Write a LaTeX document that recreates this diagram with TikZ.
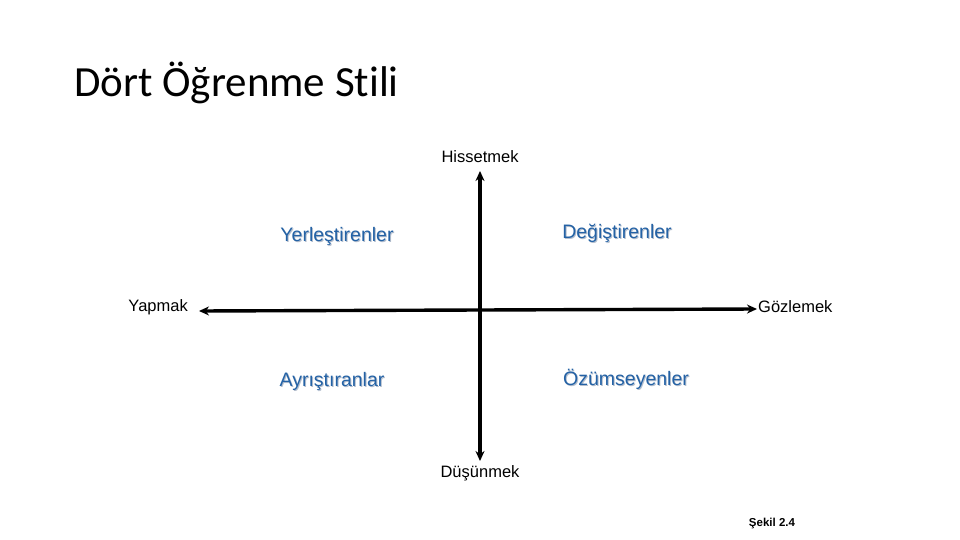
\documentclass[tikz,border=0pt]{standalone}
\usepackage{fontspec}
\setmainfont{Liberation Sans}
\newfontfamily\titlefont[Ligatures={NoCommon}]{Carlito}
\usetikzlibrary{arrows.meta}
\definecolor{lblblue}{RGB}{36,98,165}
\definecolor{shadowgray}{RGB}{180,190,205}
\tikzset{
  axis/.style={line width=3.4pt, -{Stealth[length=10pt,width=9pt]}},
  pole/.style={font=\fontsize{16.5}{18}\selectfont, text=black, inner sep=0pt},
  stylelbl/.style={font=\fontsize{19.5}{22}\selectfont, text=lblblue, inner sep=0pt},
  stylesh/.style={font=\fontsize{19.5}{22}\selectfont, text=shadowgray, inner sep=0pt},
}
\begin{document}
\begin{tikzpicture}[x=1pt,y=-1pt]
\useasboundingbox (0,0) rectangle (960,540);
% title
\node[anchor=base west, inner sep=0pt, font=\titlefont\fontsize{43}{48}\selectfont] (title) at (74,97) {Dört Öğrenme Stili};
% axes
\coordinate (c) at (480,310);
\coordinate (top) at (480,171);
\coordinate (bot) at (480,461);
\coordinate (lft) at (199,311);
\coordinate (rgt) at (757,309);
\draw[axis] (c) -- (top);
\draw[axis] (c) -- (bot);
\draw[axis] (c) -- (lft);
\draw[axis] (c) -- (rgt);
% pole labels
\node[pole] (hiss) at (480,157) {Hissetmek};
\node[pole] (dus) at (480,473) {Düşünmek};
\node[pole, anchor=east] (yap) at (188,307) {Yapmak};
\node[pole, anchor=west] (goz) at (758,307) {Gözlemek};
% style labels with faint shadow
\node[stylesh] at (338,237.5) {Yerleştirenler};
\node[stylelbl] (yer) at (337,236) {Yerleştirenler};
\node[stylesh] at (618,234.5) {Değiştirenler};
\node[stylelbl] (deg) at (617,233) {Değiştirenler};
\node[stylesh] at (333,382.5) {Ayrıştıranlar};
\node[stylelbl] (ayr) at (332,381) {Ayrıştıranlar};
\node[stylesh] at (627,380.5) {Özümseyenler};
\node[stylelbl] (ozu) at (626,379) {Özümseyenler};
% figure caption
\node[inner sep=0pt, font=\bfseries\fontsize{11.5}{13}\selectfont] (sekil) at (772,524) {Şekil 2.4};
\end{tikzpicture}
\end{document}
